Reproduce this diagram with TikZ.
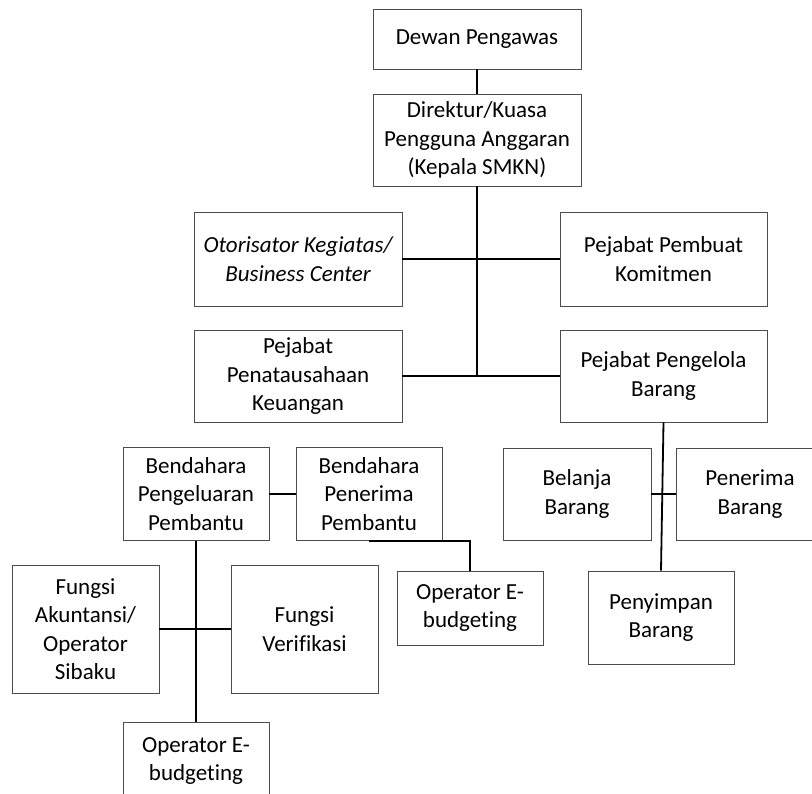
\documentclass[tikz,border=0pt]{standalone}
\usepackage{fontspec}
\setmainfont{Carlito}[Ligatures=NoCommon]
\begin{document}
\begin{tikzpicture}[x=1pt,y=-1pt,
  box/.style={draw=black!70, line width=0.9pt, fill=white, align=center,
    inner sep=0pt, font=\fontsize{23}{28.5}\selectfont},
  link/.style={draw=black, line width=1.8pt}]
  \useasboundingbox (0,0) rectangle (812,794);
  \clip (0,0) rectangle (812,794);

  % top levels
  \node[box, minimum width=208, minimum height=60] (dewan) at (477,39) {Dewan Pengawas};
  \node[box, minimum width=208, minimum height=92] (direktur) at (477,140)
    {Direktur/Kuasa\\Pengguna Anggaran\\(Kepala SMKN)};
  \node[box, minimum width=208, minimum height=94] (otor) at (298,259)
    {\itshape Otorisator Kegiatas/\\\itshape Business Center};
  \node[box, minimum width=207, minimum height=94] (komit) at (663.5,259)
    {Pejabat Pembuat\\Komitmen};
  \node[box, minimum width=208, minimum height=92] (penata) at (298,376)
    {Pejabat\\Penatausahaan\\Keuangan};
  \node[box, minimum width=207, minimum height=92] (pengelola) at (663.5,376)
    {Pejabat Pengelola\\Barang};

  % treasurers
  \node[box, minimum width=146, minimum height=93] (bpeng) at (196,494)
    {Bendahara\\Pengeluaran\\Pembantu};
  \node[box, minimum width=146, minimum height=93] (bpener) at (369,494)
    {Bendahara\\Penerima\\Pembantu};
  \node[box, minimum width=146, minimum height=74] (opmid) at (470,608)
    {Operator E-\\budgeting};
  \node[box, minimum width=147, minimum height=128] (akun) at (85.5,629)
    {Fungsi\\Akuntansi/\\Operator\\Sibaku};
  \node[box, minimum width=147, minimum height=128] (verif) at (304.5,629)
    {Fungsi\\Verifikasi};
  \node[box, minimum width=146, minimum height=78] (opbot) at (196,761)
    {Operator E-\\budgeting};

  % goods
  \node[box, minimum width=148, minimum height=92] (belanja) at (577,494)
    {Belanja\\Barang};
  \node[box, minimum width=148, minimum height=92] (penbarang) at (750,494)
    {Penerima\\Barang};
  \node[box, minimum width=146, minimum height=93] (penyimpan) at (661,617.5)
    {Penyimpan\\Barang};

  % connectors
  \draw[link] (dewan.south) -- (direktur.north);
  \draw[link] (direktur.south) -- (direktur.south |- penata.east);
  \draw[link] (otor.east) -- (komit.west);
  \draw[link] (penata.east) -- (pengelola.west);
  \draw[link] (pengelola.south) -- (penyimpan.north);
  \draw[link] (belanja.east) -- (penbarang.west);
  \draw[link] (bpeng.east) -- (bpener.west);
  \draw[link] (bpeng.south) -- (opbot.north);
  \draw[link] (akun.east) -- (verif.west);
  \draw[link] (bpener.south) -| (opmid.north);
\end{tikzpicture}
\end{document}
